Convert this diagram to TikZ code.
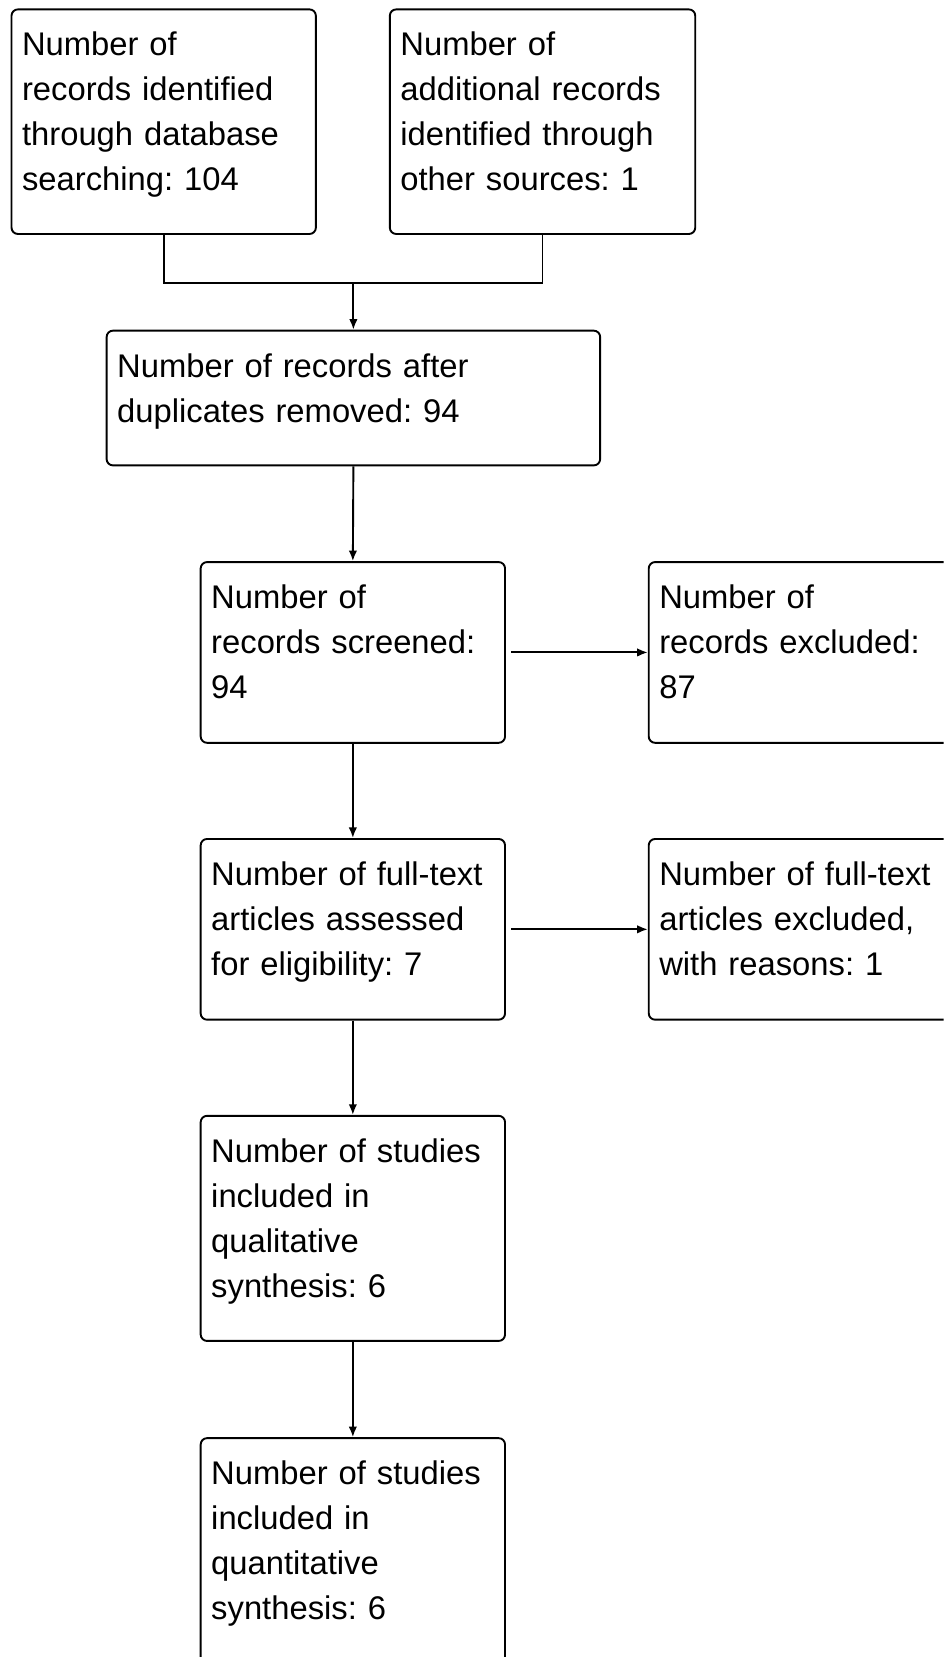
\documentclass[tikz,border=0pt]{standalone}
\usepackage{fontspec}
\setmainfont{Liberation Sans}
\usetikzlibrary{arrows.meta}
\frenchspacing

\begin{document}
\begin{tikzpicture}[x=1pt, y=-1pt,
    box/.style={draw, line width=1.8pt, rounded corners=6pt, anchor=north west,
      align=left, inner xsep=10pt, inner ysep=0pt, text height=44pt,
      font=\fontsize{31}{42.5}\selectfont},
    arr/.style={line width=1.8pt, -{Latex[length=10pt,width=8pt]}}]

    \useasboundingbox (0,0) rectangle (893,1568);
    \clip (0,0) rectangle (893,1568);

    % identification
    \node [box, text width=268pt, text depth=168.5pt] (db) at (10,8) {Number of\\records identified\\through database\\searching: 104};
    \node [box, text width=269pt, text depth=168.5pt] (other) at (368,8) {Number of\\additional records\\identified through\\other sources: 1};

    \node [box, text width=447pt, text depth=83.5pt] (dup) at (100,312) {Number of records after\\duplicates removed: 94};

    % screening
    \node [box, text width=268pt, text depth=127pt] (screen) at (189,531) {Number of\\records screened:\\94};
    \node [box, text width=268pt, text depth=127pt] (excl) at (613,531) {Number of\\records excluded:\\87};

    % eligibility
    \node [box, text width=268pt, text depth=127pt] (full) at (189,793) {Number of full-text\\articles assessed\\for eligibility: 7};
    \node [box, text width=268pt, text depth=127pt] (fullexcl) at (613,793) {Number of full-text\\articles excluded,\\with reasons: 1};

    % included
    \node [box, text width=268pt, text depth=169pt] (qual) at (189,1055) {Number of studies\\included in\\qualitative\\synthesis: 6};
    \node [box, text width=268pt, text depth=169pt] (quant) at (189,1360) {Number of studies\\included in\\quantitative\\synthesis: 6};

    \coordinate (join) at (dup.north |- 0,268);
    \draw [line width=1.8pt] (db.south) |- (join) -| (other.south);
    \draw [arr] (join) -- (dup.north);
    \draw [arr] (dup.south) -- (screen.north);
    \draw [arr] ([xshift=5pt]screen.east) -- (excl.west);
    \draw [arr] (screen.south) -- (full.north);
    \draw [arr] ([xshift=5pt]full.east) -- (fullexcl.west);
    \draw [arr] (full.south) -- (qual.north);
    \draw [arr] (qual.south) -- (quant.north);

\end{tikzpicture}
\end{document}
